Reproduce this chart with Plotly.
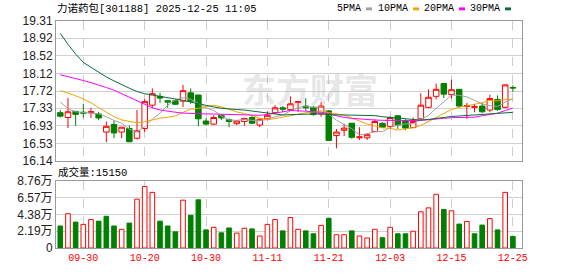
import plotly.graph_objects as go

# ---------------- data ----------------
dates = ["09-25", "09-26", "09-29", "09-30", "10-09", "10-10", "10-13", "10-14", "10-15", "10-16",
         "10-17", "10-20", "10-21", "10-22", "10-23", "10-24", "10-27", "10-28", "10-29", "10-30",
         "10-31", "11-03", "11-04", "11-05", "11-06", "11-07", "11-10", "11-11", "11-12", "11-13",
         "11-14", "11-17", "11-18", "11-19", "11-20", "11-21", "11-24", "11-25", "11-26", "11-27",
         "11-28", "12-01", "12-02", "12-03", "12-04", "12-05", "12-08", "12-09", "12-10", "12-11",
         "12-12", "12-15", "12-16", "12-17", "12-18", "12-19", "12-22", "12-23", "12-24", "12-25"]
tick_labels = ["09-30", "10-20", "10-30", "11-11", "11-21", "12-03", "12-15", "12-25"]

opens = [17.23, 17.12, 17.26, 17.24, 17.23, 17.20, 16.79, 16.96, 16.79, 16.87,
         16.65, 16.87, 17.40, 17.60, 17.50, 17.50, 17.49, 17.68, 17.63, 17.04,
         16.97, 17.17, 17.07, 16.98, 17.03, 17.12, 16.95, 17.09, 17.23, 17.34,
         17.30, 17.46, 17.38, 17.35, 17.20, 17.27, 16.71, 16.83, 16.99, 16.66,
         16.66, 16.80, 16.99, 16.92, 17.16, 17.05, 16.89, 17.09, 17.35, 17.60,
         17.89, 17.64, 17.76, 17.37, 17.35, 17.38, 17.29, 17.53, 17.35, 17.80]
highs = [17.29, 17.56, 17.27, 17.43, 17.34, 17.25, 17.03, 17.04, 16.90, 16.94,
         17.29, 17.54, 17.78, 17.68, 17.50, 17.53, 17.86, 17.78, 17.63, 17.10,
         17.17, 17.20, 17.10, 17.06, 17.11, 17.15, 17.11, 17.26, 17.40, 17.38,
         17.60, 17.50, 17.56, 17.38, 17.47, 17.29, 16.86, 16.98, 16.99, 16.90,
         16.76, 17.08, 17.01, 17.15, 17.16, 17.08, 17.12, 17.67, 17.76, 17.89,
         17.89, 17.98, 17.76, 17.45, 17.43, 17.45, 17.64, 17.62, 17.87, 17.85]
lows = [17.12, 16.88, 16.93, 17.12, 17.11, 17.06, 16.56, 16.65, 16.65, 16.56,
        16.62, 16.79, 17.34, 17.45, 17.34, 17.40, 17.36, 17.43, 16.92, 16.94,
        16.95, 17.06, 16.90, 16.95, 16.93, 16.97, 16.90, 17.05, 17.20, 17.24,
        17.28, 17.25, 17.27, 17.16, 17.14, 16.60, 16.42, 16.70, 16.64, 16.61,
        16.61, 16.79, 16.88, 16.86, 16.86, 16.83, 16.88, 17.07, 17.35, 17.53,
        17.56, 17.55, 17.35, 17.09, 17.24, 17.22, 17.24, 17.27, 17.33, 17.70]
closes = [17.15, 17.25, 17.19, 17.22, 17.25, 17.11, 16.92, 16.77, 16.90, 16.57,
          16.82, 17.48, 17.66, 17.56, 17.47, 17.42, 17.73, 17.49, 17.09, 16.97,
          17.12, 17.11, 17.03, 17.04, 17.10, 16.99, 17.08, 17.17, 17.34, 17.31,
          17.43, 17.48, 17.34, 17.19, 17.38, 16.60, 16.79, 16.88, 16.67, 16.68,
          16.73, 17.03, 16.90, 17.12, 16.95, 16.88, 17.03, 17.40, 17.58, 17.76,
          17.65, 17.75, 17.38, 17.39, 17.37, 17.25, 17.55, 17.30, 17.86, 17.79]
# volume in 万 shares
volumes = [2.88, 4.49, 3.39, 3.09, 3.72, 3.51, 4.15, 2.88, 2.45, 3.26,
           6.39, 8.04, 7.28, 3.51, 2.88, 2.12, 6.26, 4.27, 6.31, 2.37,
           2.71, 1.99, 2.62, 1.95, 2.58, 2.50, 1.57, 3.09, 3.72, 2.24,
           3.98, 2.45, 2.24, 1.86, 2.96, 3.89, 1.74, 1.74, 2.24, 1.57,
           1.31, 2.45, 1.35, 2.71, 1.86, 1.86, 2.20, 4.74, 5.25, 7.03,
           5.04, 4.87, 3.13, 3.47, 1.86, 3.00, 3.85, 2.37, 7.28, 1.515]

# moving-average values before a full window is available
ma5_head = [17.47, 17.32, 17.25, 17.235]
ma10_head = [17.73, 17.675, 17.615, 17.54, 17.455, 17.345, 17.235, 17.14, 17.065]
ma20_head = [18.09, 18.05, 18.01, 17.96, 17.91, 17.86, 17.80, 17.74, 17.66, 17.58,
             17.49, 17.41, 17.34, 17.29, 17.26, 17.24, 17.22, 17.21, 17.20]
ma30_head = [19.03, 18.78, 18.56, 18.37, 18.26, 18.15, 18.04, 17.95, 17.86, 17.785,
             17.71, 17.66, 17.63, 17.60, 17.58, 17.55, 17.51, 17.47, 17.43, 17.39,
             17.36, 17.33, 17.31, 17.30, 17.29, 17.27, 17.25, 17.23, 17.20]

price_ticks = [16.14, 16.53, 16.93, 17.33, 17.72, 18.12, 18.52, 18.92, 19.31]
vol_ticks = [0, 2.19, 4.38, 6.57, 8.76]

title_text = "力诺药包[301188] 2025-12-25 11:05"

# ---------------- helpers ----------------
def moving_avg(head, n):
    out = list(head)
    for i in range(len(head), len(closes)):
        out.append(sum(closes[i - n + 1:i + 1]) / n)
    return out

RED = "#ff0000"
GREEN = "#008000"
MA_COLORS = {"5PMA": "#a0a0a0", "10PMA": "#f5a300", "20PMA": "#ff00ff", "30PMA": "#0a6b3a"}

# plot area pixel geometry
L, R, T, B = 56, 522, 21, 255
W, H = R - L, B - T
def px(x):
    return (x - L) / W
def py(y):
    return (B - y) / H

price_dom = [py(165), 1.0]
vol_dom = [0.0, py(186)]

fig = go.Figure()

fig.add_trace(go.Candlestick(
    x=dates, open=opens, high=highs, low=lows, close=closes,
    increasing=dict(line=dict(color=RED, width=1), fillcolor="white"),
    decreasing=dict(line=dict(color=GREEN, width=1), fillcolor=GREEN),
    whiskerwidth=0, xaxis="x", yaxis="y", hoverinfo="skip"))

for name, head, n in [("5PMA", ma5_head, 5), ("10PMA", ma10_head, 10),
                      ("20PMA", ma20_head, 20), ("30PMA", ma30_head, 30)]:
    fig.add_trace(go.Scatter(x=dates, y=moving_avg(head, n), mode="lines",
                             line=dict(color=MA_COLORS[name], width=1),
                             xaxis="x", yaxis="y", hoverinfo="skip"))

up_vol = [(closes[i] >= (closes[i - 1] if i > 0 else opens[i])) for i in range(len(closes))]
fig.add_trace(go.Bar(
    x=dates, y=volumes, width=0.6,
    marker=dict(color=["white" if u else GREEN for u in up_vol],
                line=dict(color=[RED if u else GREEN for u in up_vol], width=1)),
    xaxis="x2", yaxis="y2", hoverinfo="skip"))

xr = [-0.56, 60.19]
axis_common = dict(showline=True, mirror=True, linecolor="#999999", linewidth=1)
fig.update_layout(
    width=578, height=276,
    margin=dict(l=L, r=578 - R, t=T, b=276 - B),
    paper_bgcolor="white", plot_bgcolor="white",
    showlegend=False, boxgap=0.2, boxgroupgap=0.1,
    xaxis=dict(domain=[0, 1], anchor="y", type="category", range=xr,
               rangeslider=dict(visible=False), tickvals=tick_labels,
               showticklabels=False, showgrid=True, gridcolor="#cccccc",
               griddash="dash", ticks="", **axis_common),
    yaxis=dict(domain=price_dom, anchor="x", range=[price_ticks[0], price_ticks[-1]],
               tickvals=price_ticks, ticktext=[f"{v:.2f}" for v in price_ticks],
               showgrid=True, gridcolor="#d0d0d0", zeroline=False, ticks="",
               tickfont=dict(family="Liberation Sans, Arial", size=12, color="#222222"),
               **axis_common),
    xaxis2=dict(domain=[0, 1], anchor="y2", type="category", range=xr, matches="x",
                tickvals=tick_labels, ticktext=tick_labels, showgrid=True,
                gridcolor="#cccccc", griddash="dash", ticks="",
                tickfont=dict(family="Liberation Mono, monospace", size=10, color=RED),
                **axis_common),
    yaxis2=dict(domain=vol_dom, anchor="x2", range=[0, vol_ticks[-1]],
                tickvals=vol_ticks,
                ticktext=["0"] + [f"{v:.2f}万" for v in vol_ticks[1:]],
                showgrid=True, gridcolor="#d0d0d0", zeroline=False, ticks="",
                tickfont=dict(family="Liberation Sans, Noto Sans CJK SC", size=12, color="#222222"),
                **axis_common),
)

mono = "Liberation Mono, Noto Sans CJK SC"
annotations = [
    dict(text=title_text, x=px(55), y=py(8), xanchor="left", yanchor="middle",
         font=dict(family=mono, size=10.5, color="black")),
    dict(text=f"成交量:{int(round(volumes[-1] * 10000))}", x=px(56), y=py(177),
         xanchor="left", yanchor="middle", font=dict(family=mono, size=10.5, color="black")),
    dict(text="<b>东方财富</b>", x=px(310), y=py(91), xanchor="center", yanchor="middle",
         font=dict(family="Noto Sans CJK SC", size=34, color="rgba(170,170,170,0.3)")),
]
shapes = []
legend_pos = [("5PMA", 363), ("10PMA", 410), ("20PMA", 456), ("30PMA", 502)]
for name, xe in legend_pos:
    annotations.append(dict(text=name, x=px(xe), y=py(8.5), xanchor="right", yanchor="middle",
                            font=dict(family=mono, size=10, color="black")))
    shapes.append(dict(type="rect", xref="paper", yref="paper",
                       x0=px(xe + 3), x1=px(xe + 9), y0=py(10), y1=py(7),
                       fillcolor=MA_COLORS[name], line=dict(width=0)))
for a in annotations:
    a.update(xref="paper", yref="paper", showarrow=False)
fig.update_layout(annotations=annotations, shapes=shapes)

fig.write_html("out.html")
